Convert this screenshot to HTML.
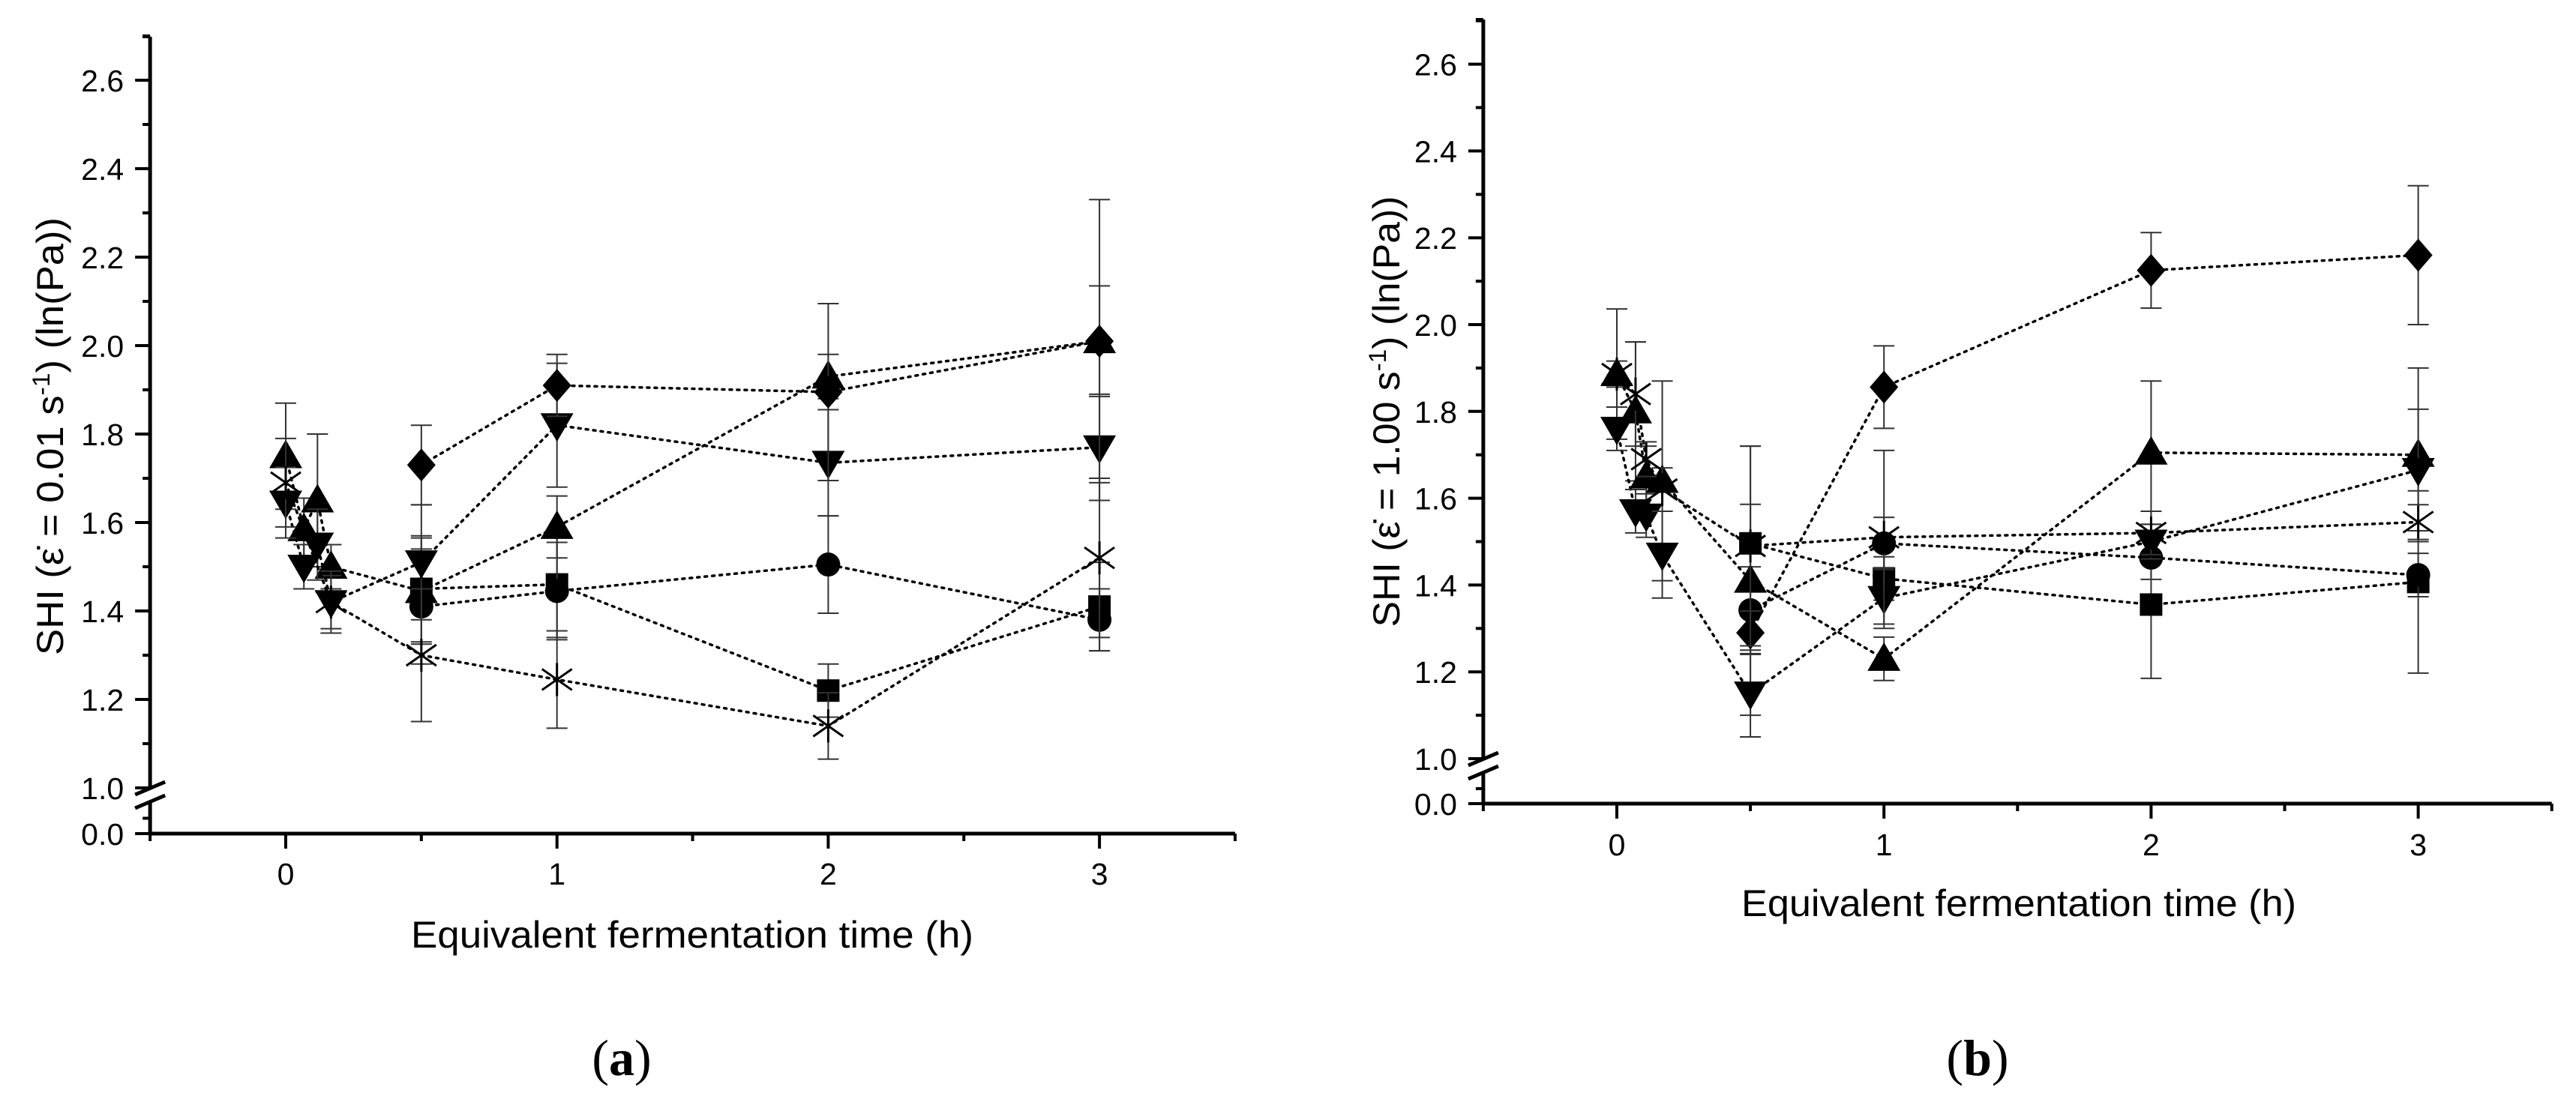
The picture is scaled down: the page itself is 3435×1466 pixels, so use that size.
<!DOCTYPE html>
<html><head><meta charset="utf-8"><style>
html,body{margin:0;padding:0;background:#fff;}
svg{display:block;font-family:"Liberation Sans",Arial,sans-serif;}
</style></head><body>
<svg id="fig" width="3435" height="1466" viewBox="0 0 3435 1466" xmlns="http://www.w3.org/2000/svg">
<rect width="3435" height="1466" fill="#fff"/>
<g id="panelA"></g>
<g id="panelB"></g>
<text x="923" y="1264" font-size="50" text-anchor="middle" textLength="750" lengthAdjust="spacingAndGlyphs">Equivalent fermentation time (h)</text>
<text x="2692" y="1222" font-size="50" text-anchor="middle" textLength="740" lengthAdjust="spacingAndGlyphs">Equivalent fermentation time (h)</text>
<text transform="translate(84,582) rotate(-90)" font-size="50" text-anchor="middle" textLength="584" lengthAdjust="spacingAndGlyphs">SHI (ε̇ = 0.01 s<tspan dy="-18" font-size="32">-1</tspan><tspan dy="18">) (ln(Pa))</tspan></text>
<text transform="translate(1866,549) rotate(-90)" font-size="50" text-anchor="middle" textLength="575" lengthAdjust="spacingAndGlyphs">SHI (ε̇ = 1.00 s<tspan dy="-18" font-size="32">-1</tspan><tspan dy="18">) (ln(Pa))</tspan></text>
<text x="829" y="1434" font-size="68" text-anchor="middle" font-family="Liberation Serif, serif">(<tspan font-weight="bold">a</tspan>)</text>
<text x="2637" y="1434" font-size="68" text-anchor="middle" font-family="Liberation Serif, serif">(<tspan font-weight="bold">b</tspan>)</text>
</svg>
<script>
// ---- Panel (a) data: strain rate 0.01 s-1 ----
const a_square_t = [0.5, 1, 2, 3];
const a_square_v = [1.45, 1.46, 1.22, 1.41];
const a_square_e = [0.12, 0.12, 0.06, 0.1];
const a_circle_t = [0.5, 1, 2, 3];
const a_circle_v = [1.41, 1.445, 1.505, 1.38];
const a_circle_e = [0.13, 0.11, 0.11, 0.07];
const a_triup_t = [0, 0.067, 0.117, 0.167, 0.5, 1, 2, 3];
const a_triup_v = [1.75, 1.585, 1.65, 1.5, 1.445, 1.59, 1.93, 2.01];
const a_triup_e = [0.12, 0.07, 0.15, 0.05, 0.12, 0.07, 0.05, 0.125];
const a_tridn_t = [0, 0.067, 0.117, 0.167, 0.5, 1, 2, 3];
const a_tridn_v = [1.645, 1.5, 1.55, 1.42, 1.51, 1.82, 1.735, 1.77];
const a_tridn_e = [0.08, 0.05, 0.08, 0.06, 0.13, 0.14, 0.12, 0.12];
const a_diam_t = [0.5, 1, 2, 3];
const a_diam_v = [1.73, 1.91, 1.895, 2.01];
const a_diam_e = [0.09, 0.07, 0.2, 0.32];
const a_star_t = [0, 0.167, 0.5, 1, 2, 3];
const a_star_v = [1.69, 1.42, 1.30, 1.245, 1.14, 1.52];
const a_star_e = [0.1, 0.07, 0.15, 0.11, 0.075, 0.18];
// ---- Panel (b) data: strain rate 1.00 s-1 ----
const b_square_t = [0.5, 1, 2, 3];
const b_square_v = [1.496, 1.415, 1.355, 1.407];
const b_square_e = [0.09, 0.05, 0.17, 0.21];
const b_circle_t = [0.5, 1, 2, 3];
const b_circle_v = [1.342, 1.496, 1.463, 1.423];
const b_circle_e = [0.1, 0.06, 0.05, 0.05];
const b_triup_t = [0, 0.07, 0.11, 0.17, 0.5, 1, 2, 3];
const b_triup_v = [1.886, 1.80, 1.65, 1.64, 1.41, 1.23, 1.705, 1.70];
const b_triup_e = [0.15, 0.16, 0.07, 0.23, 0.31, 0.05, 0.165, 0.2];
const b_tridn_t = [0, 0.07, 0.11, 0.17, 0.5, 1, 2, 3];
const b_tridn_v = [1.76, 1.57, 1.56, 1.47, 1.15, 1.37, 1.50, 1.665];
const b_tridn_e = [0.05, 0.05, 0.05, 0.1, 0.1, 0.07, 0.04, 0.14];
const b_diam_t = [0.5, 1, 2, 3];
const b_diam_v = [1.29, 1.856, 2.125, 2.16];
const b_diam_e = [0.05, 0.095, 0.087, 0.16];
const b_star_t = [0, 0.07, 0.11, 0.17, 0.5, 1, 2, 3];
const b_star_v = [1.886, 1.84, 1.69, 1.62, 1.49, 1.51, 1.52, 1.545];
const b_star_e = [0.03, 0.12, 0.04, 0.05, 0.23, 0.2, 0.05, 0.04];
// tick labels
const yTickLabels = ["1.0", "1.2", "1.4", "1.6", "1.8", "2.0", "2.2", "2.4", "2.6"];
const yTickValues = [1.0, 1.2, 1.4, 1.6, 1.8, 2.0, 2.2, 2.4, 2.6];
const xTickValues = [0, 1, 2, 3];
const xTickLabels = ["0", "1", "2", "3"];

const NS = "http://www.w3.org/2000/svg";
function mk(parent, tag, attrs) {
  const e = document.createElementNS(NS, tag);
  for (const k in attrs) e.setAttribute(k, attrs[k]);
  parent.appendChild(e);
  return e;
}

function drawPanel(g, P, series, prefix) {
  const X = t => P.t0 + t * P.unit;
  const Y = v => P.y1 - (v - 1.0) * P.pu;
  const xl = P.t0 - 0.5 * P.unit, xr = P.t0 + 3.5 * P.unit;
  const yax = mk(g, "line", {x1: xl, y1: P.top, x2: xl, y2: P.zero + 2, stroke: "#000", "stroke-width": 5});
  
  
  const xax = mk(g, "line", {x1: xl - 2, y1: P.zero, x2: xr, y2: P.zero, stroke: "#000", "stroke-width": 5});
  
  
  mk(g, "line", {x1: xl - 10, y1: P.top, x2: xl, y2: P.top, stroke: "#000", "stroke-width": 4});
  for (let v = 1.1; v < 2.71; v += 0.2) {
    mk(g, "line", {x1: xl - 10, y1: Y(v), x2: xl, y2: Y(v), stroke: "#000", "stroke-width": 4});
  }
  mk(g, "line", {x1: xl - 10, y1: (Y(1.0) + P.zero) / 2 + 10, x2: xl, y2: (Y(1.0) + P.zero) / 2 + 10, stroke: "#000", "stroke-width": 4});
  yTickValues.forEach((v, i) => {
    mk(g, "line", {x1: xl - 20, y1: Y(v), x2: xl, y2: Y(v), stroke: "#000", "stroke-width": 4});
    const t = mk(g, "text", {x: xl - 35, y: Y(v) + 15, "font-size": 41, "text-anchor": "end"});
    t.textContent = yTickLabels[i];
    
    
  });
  mk(g, "line", {x1: xl - 20, y1: P.zero, x2: xl, y2: P.zero, stroke: "#000", "stroke-width": 4});
  const z = mk(g, "text", {x: xl - 35, y: P.zero + 15, "font-size": 41, "text-anchor": "end"});
  z.textContent = "0.0";
  
  
  const yb = Y(1.0);
  mk(g, "rect", {x: xl - 6, y: yb + 1, width: 12, height: 17, fill: "#fff"});
  mk(g, "line", {x1: xl - 20, y1: yb + 9, x2: xl + 20, y2: yb - 8, stroke: "#000", "stroke-width": 5});
  mk(g, "line", {x1: xl - 20, y1: yb + 27, x2: xl + 20, y2: yb + 10, stroke: "#000", "stroke-width": 5});
  for (let t = -0.5; t <= 3.51; t += 0.5) {
    const major = Math.abs(t - Math.round(t)) < 1e-6;
    mk(g, "line", {x1: X(t), y1: P.zero, x2: X(t), y2: P.zero + (major ? 20 : 10), stroke: "#000", "stroke-width": 4});
  }
  xTickValues.forEach((t, i) => {
    const tx = mk(g, "text", {x: X(t), y: P.xlab, "font-size": 41, "text-anchor": "middle"});
    tx.textContent = xTickLabels[i];
    
    
  });
  series.forEach(s => {
    const sg = mk(g, "g", {});
    
    
    const pts = s.t.map((t, i) => X(t) + "," + Y(s.v[i])).join(" ");
    const pl = mk(sg, "polyline", {points: pts, fill: "none", stroke: "#000", "stroke-width": 3.5, "stroke-dasharray": "3 7", "stroke-linecap": "round"});
    
    
    s.t.forEach((t, i) => {
      const x = X(t), y = Y(s.v[i]), e = s.e[i] * P.pu;
      const eb = mk(sg, "path", {d: `M${x},${y - e}V${y + e}M${x - 14},${y - e}H${x + 14}M${x - 14},${y + e}H${x + 14}`, stroke: "#333", "stroke-width": 2, fill: "none"});
      
      
    });
    s.t.forEach((t, i) => {
      const x = X(t), y = Y(s.v[i]);
      let m;
      if (s.name === "square") m = mk(sg, "rect", {x: x - 15, y: y - 15, width: 30, height: 30, fill: "#000"});
      else if (s.name === "circle") m = mk(sg, "circle", {cx: x, cy: y, r: 16, fill: "#000"});
      else if (s.name === "triangle-up") m = mk(sg, "path", {d: `M${x},${y - 22}L${x + 22},${y + 16}L${x - 22},${y + 16}Z`, fill: "#000"});
      else if (s.name === "triangle-down") m = mk(sg, "path", {d: `M${x},${y + 22}L${x + 22},${y - 16}L${x - 22},${y - 16}Z`, fill: "#000"});
      else if (s.name === "diamond") m = mk(sg, "path", {d: `M${x},${y - 22}L${x + 19},${y}L${x},${y + 22}L${x - 19},${y}Z`, fill: "#000"});
      else m = mk(sg, "path", {d: `M${x - 20},${y - 14}L${x + 20},${y + 14}M${x - 20},${y + 14}L${x + 20},${y - 14}M${x},${y - 22}V${y + 22}`, stroke: "#000", "stroke-width": 3, fill: "none"});
      
      
    });
  });
}

drawPanel(document.getElementById("panelA"),
  {t0: 381, unit: 361.7, top: 49, y1: 1051, pu: 590, zero: 1112, xlab: 1180},
  [
    {name: "square", t: a_square_t, v: a_square_v, e: a_square_e},
    {name: "circle", t: a_circle_t, v: a_circle_v, e: a_circle_e},
    {name: "triangle-up", t: a_triup_t, v: a_triup_v, e: a_triup_e},
    {name: "triangle-down", t: a_tridn_t, v: a_tridn_v, e: a_tridn_e},
    {name: "diamond", t: a_diam_t, v: a_diam_v, e: a_diam_e},
    {name: "asterisk", t: a_star_t, v: a_star_v, e: a_star_e}
  ], "panel-a");
drawPanel(document.getElementById("panelB"),
  {t0: 2156, unit: 356.2, top: 26, y1: 1012, pu: 579, zero: 1072, xlab: 1141},
  [
    {name: "square", t: b_square_t, v: b_square_v, e: b_square_e},
    {name: "circle", t: b_circle_t, v: b_circle_v, e: b_circle_e},
    {name: "triangle-up", t: b_triup_t, v: b_triup_v, e: b_triup_e},
    {name: "triangle-down", t: b_tridn_t, v: b_tridn_v, e: b_tridn_e},
    {name: "diamond", t: b_diam_t, v: b_diam_v, e: b_diam_e},
    {name: "asterisk", t: b_star_t, v: b_star_v, e: b_star_e}
  ], "panel-b");
</script>
</body></html>
